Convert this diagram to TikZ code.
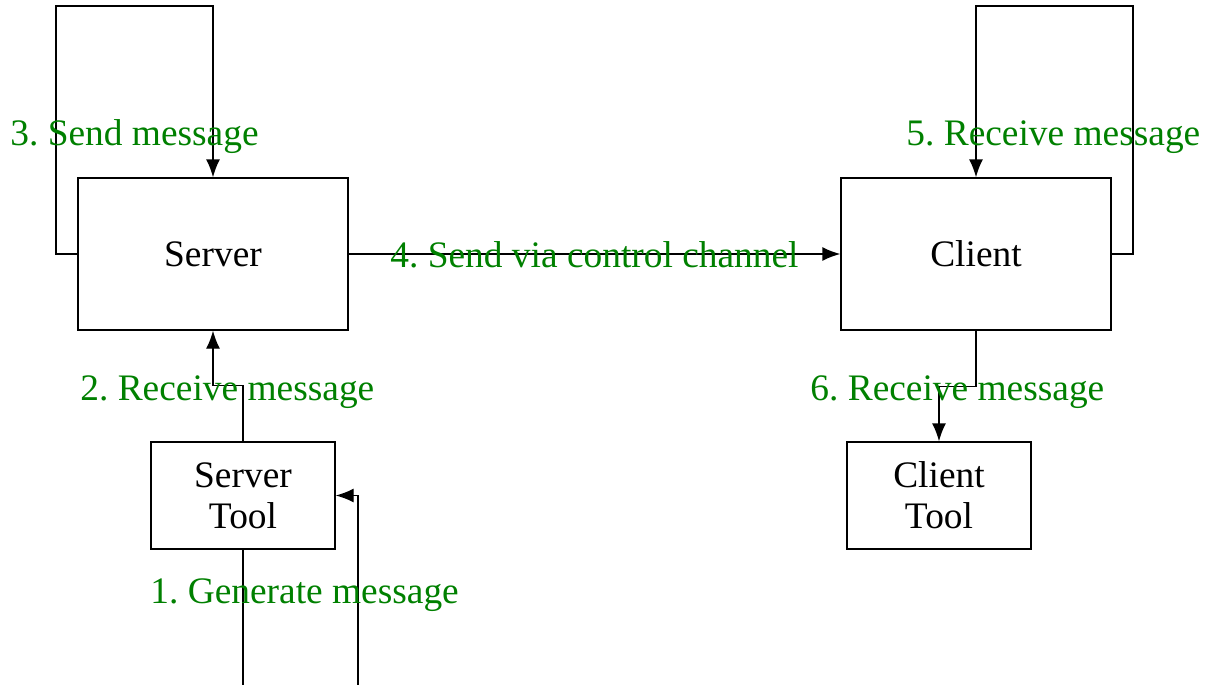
\documentclass[tikz,border=0pt]{standalone}
\usepackage{fontspec}
\setmainfont{Liberation Serif}
\usetikzlibrary{arrows.meta, positioning, calc}
\definecolor{stepgreen}{RGB}{0,128,0}
\frenchspacing

\begin{document}
\begin{tikzpicture}[x=0.5pt, y=-0.5pt,
    every node/.style={font=\fontsize{18.7}{20.5}\selectfont},
    box/.style={draw, line width=0.7pt, inner sep=0pt, align=center},
    wire/.style={line width=0.7pt},
    link/.style={wire, -{Latex[length=9pt,width=7pt]}},
    steplabel/.style={anchor=base west, inner sep=0pt, text=stepgreen}]
\useasboundingbox (0,0) rectangle (1216,685);

% Boxes
\node[box, minimum width=135pt, minimum height=76pt] (server) at (213,254) {Server};
\node[box, minimum width=135pt, minimum height=76pt] (client) at (976,254) {Client};
\node[box, minimum width=92pt, minimum height=53.5pt] (servertool) at (243,495.5) {Server\\Tool};
\node[box, minimum width=92pt, minimum height=53.5pt] (clienttool) at (939,495.5) {Client\\Tool};

% Free ends at the bottom
\coordinate (toolout) at (243,685);
\coordinate (toolin) at (358,685);

% Connectors
\draw[wire] (servertool.south) -- (toolout);
\draw[link] (toolin) |- (servertool.east);
\draw[link] (servertool.north) -- ++(0,-56) -| (server.south);
\draw[link] (server.west) -| (56,6) -| (server.north);
\draw[link] (server.east) -- (client.west);
\draw[link] (client.east) -| (1133,6) -| (client.north);
\draw[link] (client.south) -- ++(0,56) -| (clienttool.north);

% Step labels
\node[steplabel] (generate) at (150,603) {1. Generate message};
\node[steplabel] (receive2) at (80,400) {2. Receive message};
\node[steplabel] (send3) at (10,145) {3. Send message};
\node[steplabel] (send4) at (390,267) {4. Send via control channel};
\node[steplabel] (receive5) at (906,145) {5. Receive message};
\node[steplabel] (receive6) at (810,400) {6. Receive message};
\end{tikzpicture}
\end{document}
